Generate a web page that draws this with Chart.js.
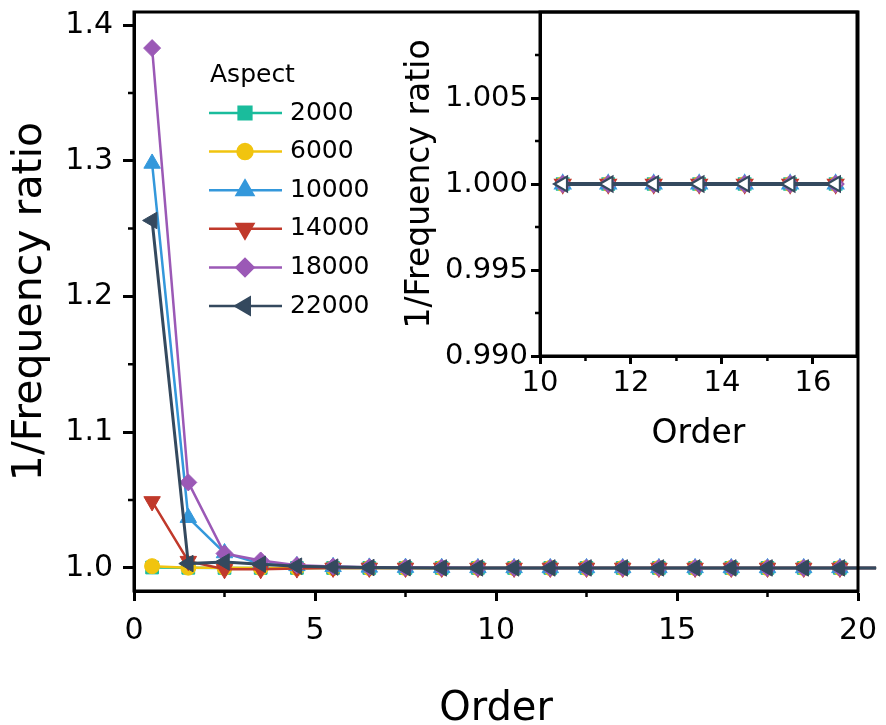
<!DOCTYPE html>
<html lang="en">
<head>
  <meta charset="UTF-8" />
  <title>1/Frequency ratio vs order</title>
  <style>
    body { margin: 0; background: #fff; }
    #wrap { position: relative; width: 886px; height: 725px; }
    #mainChart { position: absolute; left: 0; top: 0; }
    #insetChart { position: absolute; left: 380px; top: 0; }
  </style>
</head>
<body>
  <div id="wrap">
    <canvas id="mainChart" width="886" height="725"></canvas>
    <canvas id="insetChart" width="506" height="470"></canvas>
  </div>

  <script src="https://cdn.jsdelivr.net/npm/chart.js"></script>
  <script>
    // mode order (the last entry only carries the line past the frame)
    const orders = [0.5, 1.5, 2.5, 3.5, 4.5, 5.5, 6.5, 7.5, 8.5, 9.5,
                    10.5, 11.5, 12.5, 13.5, 14.5, 15.5, 16.5, 17.5, 18.5, 19.5, 20.5];

    const aspects = ["2000", "6000", "10000", "14000", "18000", "22000"];

    const r2000  = [1.0003, 1.0001, 1.0000, 1.0000, 1.0000, 1.0000, 1.0000, 1.0000, 1.0000, 1.0000,
                    1.0000, 1.0000, 1.0000, 1.0000, 1.0000, 1.0000, 1.0000, 1.0000, 1.0000, 1.0000, 1.0000];
    const r6000  = [1.0013, 1.0002, 1.0001, 1.0000, 1.0000, 1.0000, 1.0000, 1.0000, 1.0000, 1.0000,
                    1.0000, 1.0000, 1.0000, 1.0000, 1.0000, 1.0000, 1.0000, 1.0000, 1.0000, 1.0000, 1.0000];
    const r10000 = [1.298, 1.037, 1.011, 1.003, 1.0015, 1.0008, 1.0004, 1.0002, 1.0001, 1.0000,
                    1.0000, 1.0000, 1.0000, 1.0000, 1.0000, 1.0000, 1.0000, 1.0000, 1.0000, 1.0000, 1.0000];
    const r14000 = [1.049, 1.005, 0.999, 0.999, 0.9995, 1.0000, 1.0000, 1.0000, 1.0000, 1.0000,
                    1.0000, 1.0000, 1.0000, 1.0000, 1.0000, 1.0000, 1.0000, 1.0000, 1.0000, 1.0000, 1.0000];
    const r18000 = [1.383, 1.063, 1.0106, 1.0055, 1.002, 1.001, 1.0005, 1.0002, 1.0001, 1.0000,
                    1.0000, 1.0000, 1.0000, 1.0000, 1.0000, 1.0000, 1.0000, 1.0000, 1.0000, 1.0000, 1.0000];
    const r22000 = [1.256, 1.0032, 1.0044, 1.0027, 1.0013, 1.0006, 1.0003, 1.0001, 1.0000, 1.0000,
                    1.0000, 1.0000, 1.0000, 1.0000, 1.0000, 1.0000, 1.0000, 1.0000, 1.0000, 1.0000, 1.0000];

    // zoomed view: orders 10.5 .. 16.5
    const insetOrders = [10.5, 11.5, 12.5, 13.5, 14.5, 15.5, 16.5];
    const insetRatio  = [1.000, 1.000, 1.000, 1.000, 1.000, 1.000, 1.000];

    const xTicks = [0, 5, 10, 15, 20];
    const xMinor = [2.5, 7.5, 12.5, 17.5];
    const yTicks = [1.0, 1.1, 1.2, 1.3, 1.4];
    const yMinor = [1.05, 1.15, 1.25, 1.35];

    const insetXTicks = [10, 12, 14, 16];
    const insetXMinor = [11, 13, 15];
    const insetYTicks = [0.990, 0.995, 1.000, 1.005];
    const insetYMinor = [0.9925, 0.9975, 1.0025, 1.0075];

    const series = [r2000, r6000, r10000, r14000, r18000, r22000];
    const colors = ["#1abc9c", "#f1c40f", "#3498db", "#c0392b", "#9b59b6", "#34495e"];
    const marks = [
      { style: "rect", rot: 0, r: 9 },
      { style: "circle", rot: 0, r: 7.5 },
      { style: "triangle", rot: 0, r: 9.5 },
      { style: "triangle", rot: 180, r: 9.5 },
      { style: "rectRot", rot: 0, r: 8.5 },
      { style: "triangle", rot: -90, r: 9.5 }
    ];

    Chart.defaults.font.family = "'DejaVu Sans', sans-serif";
    Chart.defaults.color = "#000";

    // box around the plot area plus short minor ticks
    const frame = {
      id: "frame",
      afterDraw(chart, args, opts) {
        const { ctx, chartArea: a } = chart;
        const sx = chart.scales.x, sy = chart.scales.y;
        ctx.save();
        ctx.strokeStyle = "#000";
        ctx.lineWidth = 3;
        ctx.strokeRect(a.left, a.top, a.right - a.left, a.bottom - a.top);
        ctx.lineWidth = 2.5;
        ctx.beginPath();
        opts.xMinor.forEach(v => {
          const px = sx.getPixelForValue(v);
          ctx.moveTo(px, a.bottom);
          ctx.lineTo(px, a.bottom + opts.len);
        });
        opts.yMinor.forEach(v => {
          const py = sy.getPixelForValue(v);
          ctx.moveTo(a.left, py);
          ctx.lineTo(a.left - opts.len, py);
        });
        ctx.stroke();
        ctx.restore();
      }
    };

    // legend block inside the plot
    const aspectLegend = {
      id: "aspectLegend",
      afterDraw(chart) {
        const ctx = chart.ctx;
        ctx.save();
        ctx.font = "25px 'DejaVu Sans'";
        ctx.fillStyle = "#000";
        ctx.textBaseline = "middle";
        ctx.textAlign = "left";
        ctx.fillText("Aspect", 210, 75);
        aspects.forEach((name, i) => {
          const y = 113 + i * 38.6;
          ctx.strokeStyle = colors[i];
          ctx.lineWidth = 2.5;
          ctx.beginPath();
          ctx.moveTo(209, y);
          ctx.lineTo(282, y);
          ctx.stroke();
          ctx.fillStyle = colors[i];
          Chart.helpers.drawPoint(ctx, {
            pointStyle: marks[i].style,
            rotation: marks[i].rot,
            radius: marks[i].r,
            borderWidth: 1
          }, 245, y);
          ctx.fillStyle = "#000";
          ctx.fillText(name, 290, y);
        });
        ctx.restore();
      }
    };

    // keep the plot box where it is, labels may hang over the edge
    const noPad = s => {
      s.paddingTop = 0; s.paddingBottom = 0;
      s.paddingLeft = 0; s.paddingRight = 0;
    };

    const mainSets = series.map((vals, i) => ({
      label: aspects[i],
      data: orders.map((x, j) => ({ x, y: vals[j] })),
      borderColor: colors[i],
      backgroundColor: colors[i],
      borderWidth: i === 5 ? 3 : 2.5,
      pointStyle: marks[i].style,
      pointRotation: marks[i].rot,
      pointRadius: c => c.dataIndex === orders.length - 1 ? 0 : marks[i].r,
      pointBorderWidth: 1,
      order: 5 - i,
      clip: false
    }));

    new Chart(document.getElementById("mainChart"), {
      type: "line",
      data: { datasets: mainSets },
      options: {
        responsive: false,
        animation: false,
        layout: { padding: { top: 12, right: 28, left: 0, bottom: 0 } },
        plugins: {
          legend: { display: false },
          tooltip: { enabled: false },
          frame: { xMinor, yMinor, len: 6 }
        },
        scales: {
          x: {
            type: "linear",
            min: 0,
            max: 20,
            afterBuildTicks: s => { s.ticks = xTicks.map(v => ({ value: v })); },
            afterFit: s => { s.height = 134; noPad(s); },
            grid: { drawOnChartArea: false, tickLength: 10, tickWidth: 3, tickColor: "#000" },
            border: { color: "#000", width: 3 },
            ticks: { font: { size: 30 }, padding: 12, maxRotation: 0, autoSkip: false, callback: v => v },
            title: { display: true, text: "Order", font: { size: 40, lineHeight: 0.75 }, padding: { top: 0, bottom: 0 } }
          },
          y: {
            type: "linear",
            min: 0.983,
            max: 1.4096,
            afterBuildTicks: s => { s.ticks = yTicks.map(v => ({ value: v })); },
            afterFit: s => { s.width = 134; noPad(s); },
            grid: { drawOnChartArea: false, tickLength: 11, tickWidth: 3, tickColor: "#000" },
            border: { color: "#000", width: 3 },
            ticks: { font: { size: 30 }, padding: 10, autoSkip: false, callback: v => v.toFixed(1) },
            title: { display: true, text: "1/Frequency ratio", font: { size: 41 }, padding: { top: 6, bottom: 0 } }
          }
        }
      },
      plugins: [frame, aspectLegend]
    });

    const insetSets = colors.map((c, i) => ({
      label: aspects[i],
      data: insetOrders.map((x, j) => ({ x, y: insetRatio[j] })),
      borderColor: c,
      backgroundColor: "#fff",
      borderWidth: i === 5 ? 4 : 2.5,
      pointStyle: marks[i].style,
      pointRotation: marks[i].rot,
      pointRadius: marks[i].r * 0.9,
      pointBorderWidth: 2.2,
      order: 5 - i
    }));

    new Chart(document.getElementById("insetChart"), {
      type: "line",
      data: { datasets: insetSets },
      options: {
        responsive: false,
        animation: false,
        layout: { padding: { top: 12, right: 29, left: 0, bottom: 0 } },
        plugins: {
          legend: { display: false },
          tooltip: { enabled: false },
          frame: { xMinor: insetXMinor, yMinor: insetYMinor, len: 5 }
        },
        scales: {
          x: {
            type: "linear",
            min: 10,
            max: 16.97,
            afterBuildTicks: s => { s.ticks = insetXTicks.map(v => ({ value: v })); },
            afterFit: s => { s.height = 114; noPad(s); },
            grid: { drawOnChartArea: false, tickLength: 8, tickWidth: 3, tickColor: "#000" },
            border: { color: "#000", width: 3 },
            ticks: { font: { size: 29 }, padding: 2, maxRotation: 0, autoSkip: false, callback: v => v },
            title: { display: true, text: "Order", font: { size: 33 }, padding: { top: 0, bottom: 16 } }
          },
          y: {
            type: "linear",
            min: 0.990,
            max: 1.010,
            afterBuildTicks: s => { s.ticks = insetYTicks.map(v => ({ value: v })); },
            afterFit: s => { s.width = 160; noPad(s); },
            grid: { drawOnChartArea: false, tickLength: 9, tickWidth: 3, tickColor: "#000" },
            border: { color: "#000", width: 3 },
            ticks: { font: { size: 29 }, padding: 3, autoSkip: false, callback: v => v.toFixed(3) },
            title: { display: true, text: "1/Frequency ratio", font: { size: 33 }, padding: { top: 21, bottom: 0 } }
          }
        }
      },
      plugins: [frame]
    });
  </script>
</body>
</html>
